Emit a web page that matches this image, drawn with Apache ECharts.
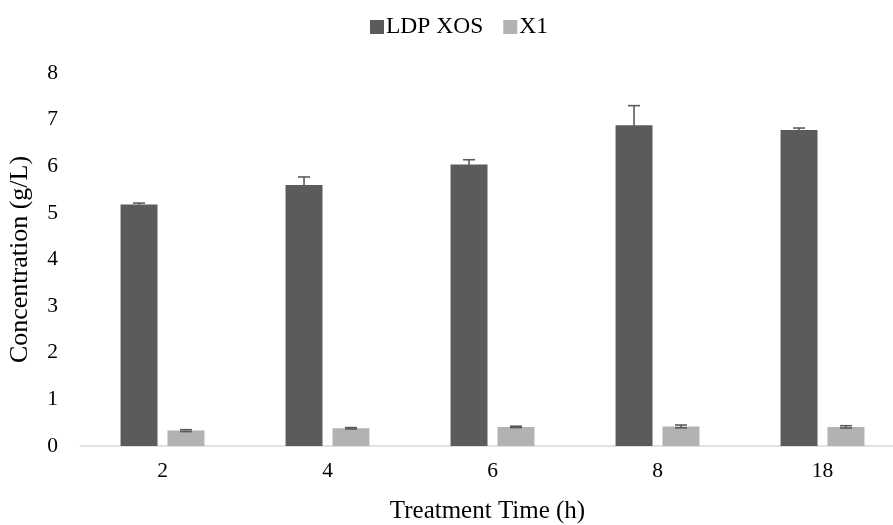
<!DOCTYPE html>
<html>
<head>
<meta charset="utf-8">
<script src="https://cdn.jsdelivr.net/npm/echarts@6/dist/echarts.min.js"></script>
<style>
  html, body { margin: 0; padding: 0; background: #fff; }
  #chart { width: 893px; height: 525px; }
</style>
</head>
<body>
<div id="chart"></div>
<script>
// Treatment times (h) on the category axis
const categories = ['2', '4', '6', '8', '18'];
// Concentrations (g/L) with standard deviations
const ldpXos = [5.18, 5.60, 6.04, 6.88, 6.78];
const ldpXosErr = [0.03, 0.17, 0.10, 0.42, 0.04];
const x1 = [0.33, 0.38, 0.41, 0.42, 0.41];
const x1Err = [0.02, 0.015, 0.015, 0.03, 0.025];
const yTicks = [0, 1, 2, 3, 4, 5, 6, 7, 8];

const DARK = '#5b5b5b';
const LIGHT = '#b2b2b2';
const FONT = '"Liberation Serif", "Times New Roman", serif';
const BAR_FRAC = 0.224;   // bar width as share of the category band
const GAP_FRAC = 0.27;    // gap between the pair as share of a bar width

function errorData(vals, errs) {
  return vals.map((v, i) => [i, v - errs[i], v + errs[i]]);
}

// Whisker renderer; side = -1 for the left bar of a pair, +1 for the right
function makeErrorRenderer(side) {
  return function (params, api) {
    const idx = api.value(0);
    const lo = api.coord([idx, api.value(1)]);
    const hi = api.coord([idx, api.value(2)]);
    const band = api.size([1, 0])[0];
    const bw = band * BAR_FRAC;
    const x = lo[0] + side * (bw + bw * GAP_FRAC) / 2;
    const cap = 6;
    const style = { stroke: DARK, lineWidth: 1.6 };
    return {
      type: 'group',
      children: [
        { type: 'line', shape: { x1: x, y1: lo[1], x2: x, y2: hi[1] }, style },
        { type: 'line', shape: { x1: x - cap, y1: hi[1], x2: x + cap, y2: hi[1] }, style },
        { type: 'line', shape: { x1: x - cap, y1: lo[1], x2: x + cap, y2: lo[1] }, style }
      ]
    };
  };
}

const chart = echarts.init(document.getElementById('chart'), null, { renderer: 'canvas' });
chart.setOption({
  animation: false,
  textStyle: { fontFamily: FONT, color: '#000' },
  legend: {
    top: 10,
    left: 365,
    icon: 'rect',
    itemWidth: 14,
    itemHeight: 14,
    itemGap: 20,
    data: ['LDP XOS', 'X1'],
    textStyle: { fontFamily: FONT, fontSize: 23.5, color: '#000', padding: [0, 0, 0, -3] }
  },
  // the plot runs a little past the right edge of the canvas
  grid: {
    left: 80, right: -12, top: 73, bottom: 79,
    containLabel: false,
    outerBoundsMode: 'none'
  },
  xAxis: {
    type: 'category',
    data: categories,
    name: 'Treatment Time (h)',
    nameLocation: 'middle',
    nameGap: 53,
    nameTextStyle: { fontFamily: FONT, fontSize: 25, color: '#000', padding: [0, 10, 0, 0] },
    axisLine: { lineStyle: { color: '#d9d9d9', width: 1.5 } },
    axisTick: { show: false },
    axisLabel: { fontFamily: FONT, fontSize: 21.5, color: '#000', margin: 14 }
  },
  yAxis: {
    type: 'value',
    min: yTicks[0],
    max: yTicks[yTicks.length - 1],
    interval: 1,
    name: 'Concentration (g/L)',
    nameLocation: 'middle',
    nameRotate: 90,
    nameGap: 47,
    nameTextStyle: { fontFamily: FONT, fontSize: 26, color: '#000' },
    axisLine: { show: false },
    axisTick: { show: false },
    splitLine: { show: false },
    axisLabel: { fontFamily: FONT, fontSize: 21.5, color: '#000', margin: 22 }
  },
  series: [
    {
      name: 'LDP XOS',
      type: 'bar',
      data: ldpXos,
      barWidth: (BAR_FRAC * 100) + '%',
      barGap: (GAP_FRAC * 100) + '%',
      itemStyle: { color: DARK }
    },
    {
      name: 'X1',
      type: 'bar',
      data: x1,
      barWidth: (BAR_FRAC * 100) + '%',
      barGap: (GAP_FRAC * 100) + '%',
      itemStyle: { color: LIGHT }
    },
    {
      name: 'LDP XOS err',
      type: 'custom',
      renderItem: makeErrorRenderer(-1),
      data: errorData(ldpXos, ldpXosErr),
      encode: { x: 0, y: [1, 2] },
      z: 10
    },
    {
      name: 'X1 err',
      type: 'custom',
      renderItem: makeErrorRenderer(1),
      data: errorData(x1, x1Err),
      encode: { x: 0, y: [1, 2] },
      z: 10
    }
  ]
});
</script>
</body>
</html>
